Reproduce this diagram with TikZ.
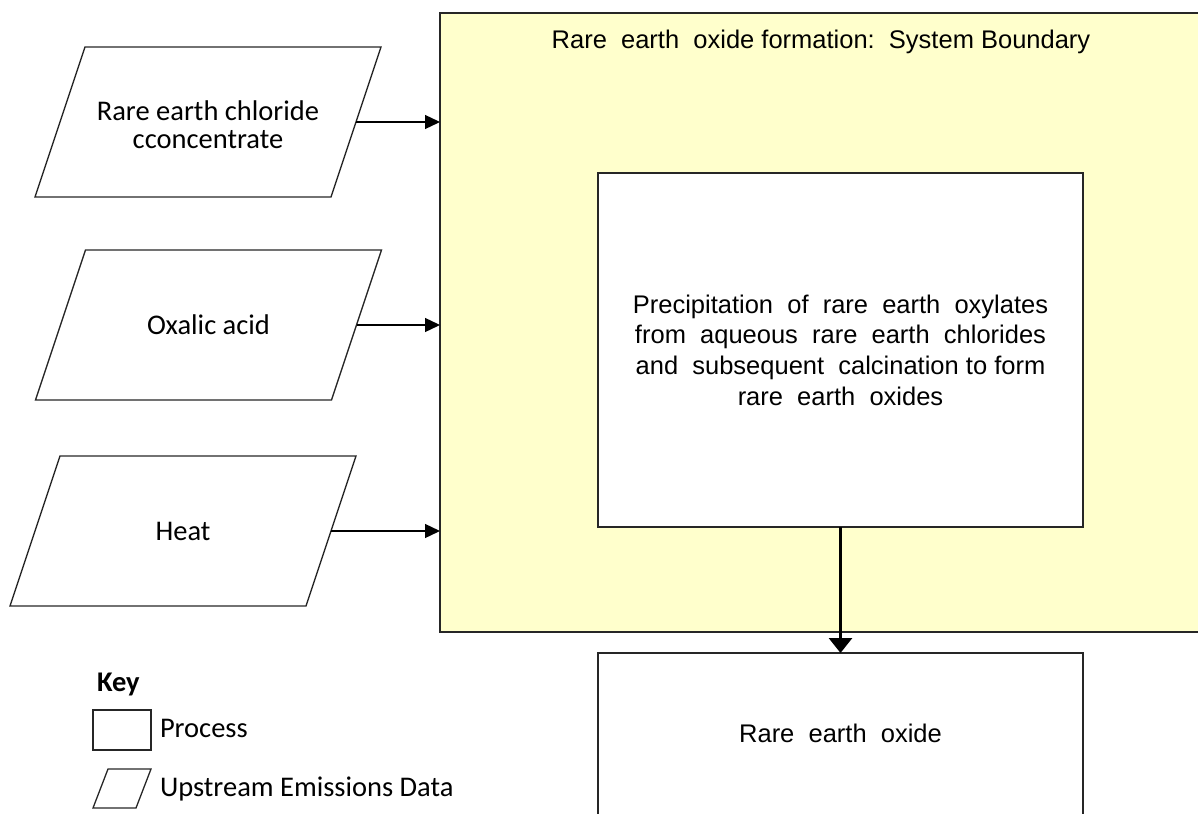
\documentclass[tikz,border=0pt]{standalone}
\usepackage{fontspec}
\setmainfont{Liberation Sans}
\newfontfamily\calib{Carlito}
\usetikzlibrary{arrows.meta}
\definecolor{sysyellow}{HTML}{FFFFCC}
\definecolor{edge}{HTML}{262626}
\begin{document}
\begin{tikzpicture}[x=1pt,y=-1pt,
  every node/.style={inner sep=0pt,outer sep=0pt},
  arialtxt/.style={font=\fontsize{25.5}{30.6}\selectfont,align=center},
  calibtxt/.style={font=\calib\fontsize{28.5}{28}\selectfont,align=center},
  databody/.style={rectangle,minimum width=296pt,minimum height=150pt,calibtxt},
  dataedge/.style={draw=edge,line width=1.3pt,line join=miter},
  procbox/.style={rectangle,draw=edge,line width=1.5pt,fill=white},
  sysbox/.style={rectangle,draw=edge,line width=1.8pt,fill=sysyellow},
  flow/.style={line width=1.3pt,-{Triangle[length=15pt,width=14pt]}},
  outflow/.style={line width=3pt,-{Triangle[length=15pt,width=23pt]}}
]
\useasboundingbox (0,0) rectangle (1198,813);
\clip (0,0) rectangle (1198,813);

% system boundary
\node[sysbox,anchor=north west,minimum width=780pt,minimum height=619pt] (sys) at (440,13) {};
\node[arialtxt] (systitle) at (821,42) {Rare\ \ earth\ \ oxide formation:\ \ System Boundary};

% main process
\node[procbox,minimum width=485pt,minimum height=354pt,arialtxt] (proc) at (840.5,350)
  {Precipitation\ \ of\ \ rare\ \ earth\ \ oxylates\\from\ \ aqueous\ \ rare\ \ earth\ \ chlorides\\and\ \ subsequent\ \ calcination to form\\rare\ \ earth\ \ oxides};

% output
\node[procbox,anchor=north,minimum width=485pt,minimum height=200pt] (out) at (840.5,653) {};
\node[arialtxt] (outlbl) at (840.5,733) {Rare\ \ earth\ \ oxide};

% inputs (bodies of the parallelograms)
\node[databody,label={[calibtxt,yshift=-3pt]center:{Rare earth chloride\\cconcentrate}}] (p1) at (208,122) {};
\node[databody] (p2) at (208.5,325) {Oxalic acid};
\node[databody] (p3) at (183,531) {Heat};
\foreach \p in {p1,p2,p3}{
  \draw[dataedge] ([xshift=25pt]\p.north west) -- ([xshift=25pt]\p.north east)
    -- ([xshift=-25pt]\p.south east) -- ([xshift=-25pt]\p.south west) -- cycle;
}

\draw[flow] (p1.east) -- (sys.west |- p1.east);
\draw[flow] (p2.east) -- (sys.west |- p2.east);
\draw[flow] (p3.east) -- (sys.west |- p3.east);
\draw[outflow] (proc.south) -- (out.north);

% key
\node[calibtxt,font=\calib\bfseries\fontsize{28.5}{33}\selectfont,anchor=west] (keyt) at (97,684) {Key};
\node[procbox,line width=1.3pt,minimum width=58pt,minimum height=40pt] (kproc) at (122,730) {};
\node[rectangle,minimum width=43pt,minimum height=39pt] (kdata) at (122,788.5) {};
\draw[dataedge] ([xshift=7.5pt]kdata.north west) -- ([xshift=7.5pt]kdata.north east)
  -- ([xshift=-7.5pt]kdata.south east) -- ([xshift=-7.5pt]kdata.south west) -- cycle;
\node[calibtxt,anchor=west] (kproct) at (160,728) {Process};
\node[calibtxt,anchor=west] (kdatat) at (160,789) {Upstream Emissions Data};
\end{tikzpicture}
\end{document}
